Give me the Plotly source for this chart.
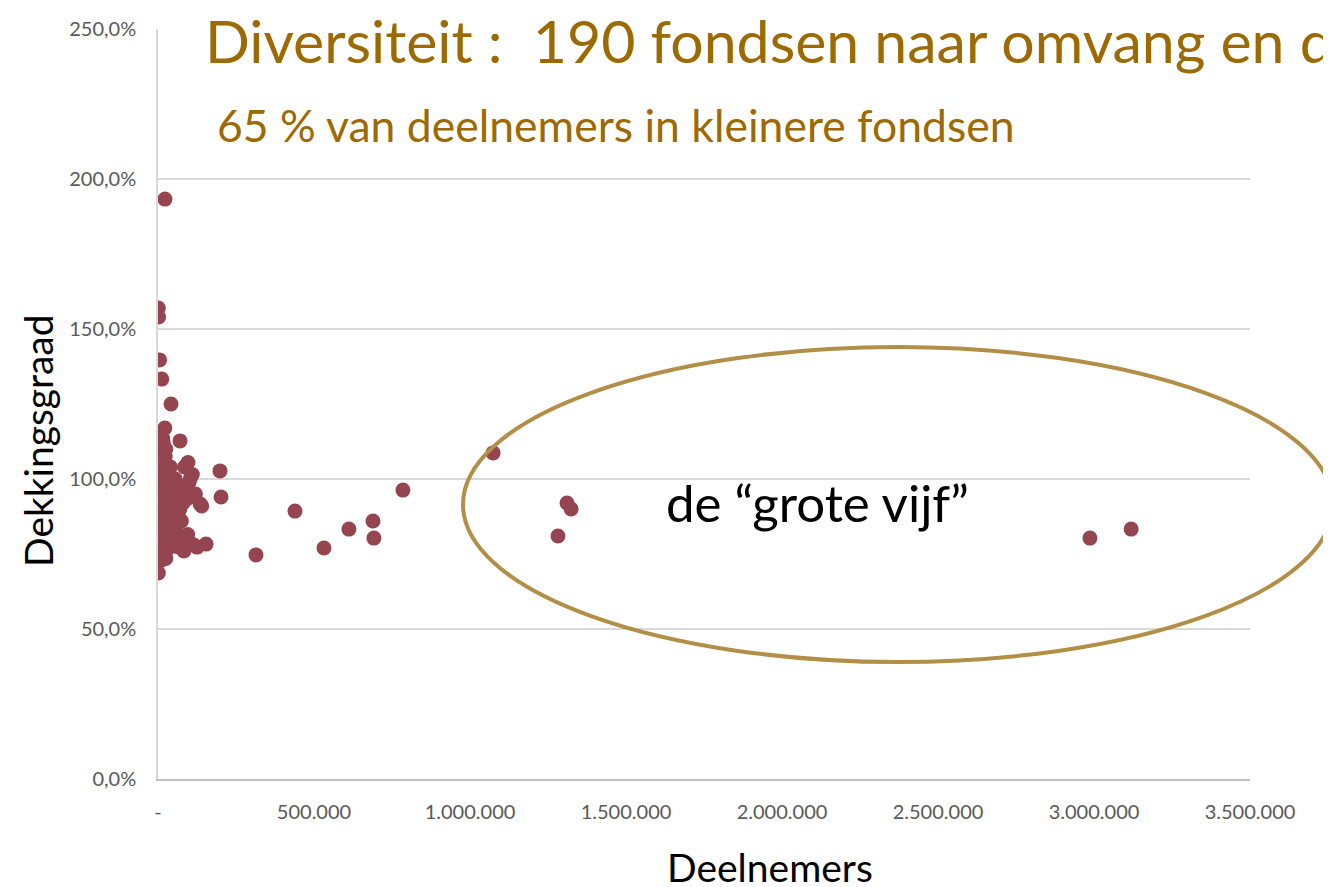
import plotly.graph_objects as go

# Deelnemers (participants) and dekkingsgraad (funding ratio, fraction)
deelnemers = [
    22400, 1000, 2000, 5000, 12000, 41700, 22000, 10000, 15000, 70500, 3000,
    198700, 202000, 314000, 439000, 532000, 612000, 689000, 692000, 785000,
    1074000, 1282000, 1311000, 1324000, 2987000, 3119000,
    # dense cluster of small funds
    3000, 5000, 2000, 8000, 4000, 12000, 6000, 15000, 3000, 9000, 20000, 2000,
    7000, 14000, 25000, 4000, 10000, 18000, 3000, 6000, 30000, 12000, 2000,
    22000, 8000, 5000, 16000, 35000, 3000, 10000, 26000, 6000, 14000, 2000,
    40000, 9000, 20000, 4000, 12000, 30000, 3000, 8000, 18000, 25000, 5000,
    1000, 12000, 20000, 96000, 85000, 110000, 100000, 90000, 120000, 135000,
    140000, 95000, 80000, 70000, 60000, 55000, 65000, 75000, 50000, 154000,
    125000, 115000, 95000, 100000, 60000, 70000, 45000, 40000, 35000, 30000,
    20000, 40000, 25000, 15000, 45000, 55000, 65000, 50000, 28000, 33000,
    38000, 48000, 58000, 68000, 78000, 88000, 105000, 23000, 17000, 11000,
    7000, 27000, 43000, 53000, 63000, 73000, 83000, 32000, 19000, 13000,
]
dekkingsgraad = [
    1.933, 1.57, 1.54, 1.397, 1.333, 1.25, 1.17, 1.15, 1.13, 1.127, 1.15,
    1.027, 0.94, 0.747, 0.893, 0.77, 0.833, 0.86, 0.803, 0.963,
    1.087, 0.81, 0.92, 0.90, 0.803, 0.833,
    1.085, 1.06, 1.04, 1.03, 1.01, 1.00, 0.99, 0.98, 0.97, 0.96, 0.955, 0.95,
    0.94, 0.93, 0.925, 0.92, 0.91, 0.90, 0.895, 0.89, 0.885, 0.88, 0.87,
    0.865, 0.86, 0.85, 0.845, 0.84, 0.83, 0.825, 0.82, 0.81, 0.805, 0.80,
    0.795, 0.79, 0.785, 0.78, 0.77, 0.765, 0.76, 0.75, 0.745, 0.735, 0.73,
    0.687, 0.73, 0.74, 1.055, 1.04, 1.015, 0.99, 0.97, 0.95, 0.917,
    0.91, 0.935, 0.92, 0.90, 0.96, 1.00, 0.88, 0.86, 0.85, 0.783,
    0.773, 0.78, 0.815, 0.79, 0.775, 0.78, 0.82, 0.88, 0.95, 1.03,
    1.055, 1.04, 1.10, 1.135, 0.93, 0.98, 0.94, 0.87, 1.02, 0.97,
    0.92, 0.89, 0.83, 0.80, 0.79, 0.97, 1.005, 1.075, 1.12, 0.775,
    0.84, 0.91, 0.87, 0.82, 0.78, 0.81, 0.76, 1.01, 0.95, 0.90,
]

x_tickvals = [0, 500000, 1000000, 1500000, 2000000, 2500000, 3000000, 3500000]
x_ticktext = ["-", "500.000", "1.000.000", "1.500.000", "2.000.000",
              "2.500.000", "3.000.000", "3.500.000"]
y_tickvals = [0, 0.5, 1.0, 1.5, 2.0, 2.5]
y_ticktext = ["0,0%", "50,0%", "100,0%", "150,0%", "200,0%", "250,0%"]

# page offset of 8px (body margin) is accounted for
OFF = 8
W, H = 1323, 879
ML, MR, MT, MB = 150, 81, 21, 108
PW, PH = W - ML - MR, H - MT - MB

def px_x(p):
    return (p - OFF - ML) / PW

def px_y(p):
    return (H - MB - (p - OFF)) / PH

gold = "#9C6A00"
font = "Lato"

fig = go.Figure()
fig.add_trace(go.Scatter(
    x=deelnemers, y=dekkingsgraad, mode="markers",
    marker=dict(color="#954550", size=15, line=dict(width=0)),
    hoverinfo="x+y", showlegend=False,
))

fig.update_layout(
    width=W, height=H,
    margin=dict(l=ML, r=MR, t=MT, b=MB, autoexpand=False),
    paper_bgcolor="white", plot_bgcolor="white",
    font=dict(family=font, color="#595959"),
    xaxis=dict(
        range=[0, 3500000], tickvals=x_tickvals, ticktext=x_ticktext,
        showgrid=False, zeroline=False, showline=True, linecolor="#BFBFBF",
        linewidth=1.5, ticks="", ticklabelstandoff=14, automargin=False,
        tickfont=dict(size=20, color="#595959"),
    ),
    yaxis=dict(
        range=[0, 2.5], tickvals=y_tickvals, ticktext=y_ticktext,
        showgrid=True, gridcolor="#D9D9D9", gridwidth=1.5, zeroline=False,
        showline=True, linecolor="#D9D9D9", linewidth=1.5, ticks="",
        ticklabelstandoff=16, automargin=False,
        tickfont=dict(size=20, color="#595959"),
    ),
)

fig.add_shape(
    type="circle", xref="paper", yref="paper",
    x0=px_x(463), x1=px_x(1333), y0=px_y(662), y1=px_y(347),
    line=dict(color="#B38E47", width=4), layer="above",
)

# axis titles
fig.add_annotation(
    text="Deelnemers", xref="paper", yref="paper",
    x=px_x(770), y=px_y(867), xanchor="center", yanchor="middle",
    showarrow=False, font=dict(size=39, color="black", family=font),
)
fig.add_annotation(
    text="Dekkingsgraad", xref="paper", yref="paper", textangle=-90,
    x=px_x(38), y=px_y(441), xanchor="center", yanchor="middle",
    showarrow=False, font=dict(size=39, color="black", family=font),
)

fig.add_annotation(
    text="Diversiteit :  190 fondsen naar omvang en dekkingsgraad",
    xref="paper", yref="paper", x=px_x(203), y=px_y(40),
    xanchor="left", yanchor="middle", showarrow=False,
    font=dict(size=59, color=gold, family=font),
)
fig.add_annotation(
    text="65 % van deelnemers in kleinere fondsen",
    xref="paper", yref="paper", x=px_x(215), y=px_y(124),
    xanchor="left", yanchor="middle", showarrow=False,
    font=dict(size=44.5, color=gold, family=font),
)
fig.add_annotation(
    text="de \u201cgrote vijf\u201d",
    xref="paper", yref="paper", x=px_x(664), y=px_y(502),
    xanchor="left", yanchor="middle", showarrow=False,
    font=dict(size=51, color="black", family=font),
)

fig.write_html("out.html")
